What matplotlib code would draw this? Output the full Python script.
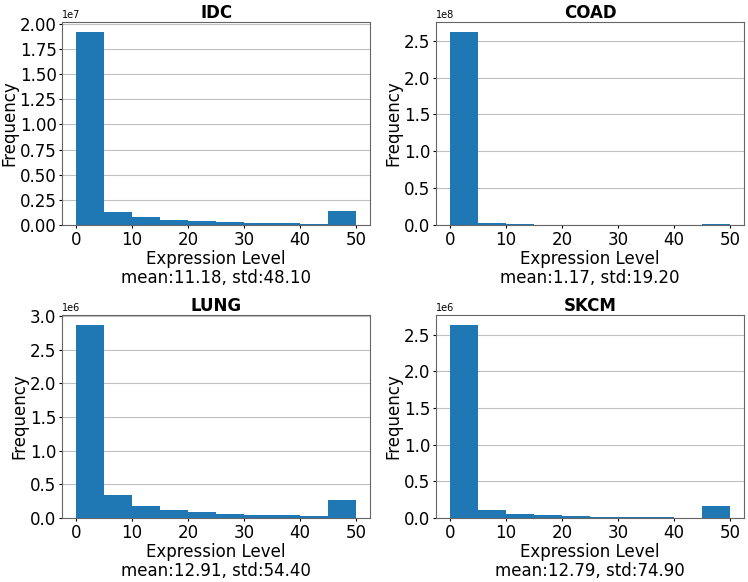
import numpy as np
import matplotlib
matplotlib.use("Agg")
import matplotlib.pyplot as plt
from matplotlib.ticker import MultipleLocator

# bin edges shared by all four histograms
bin_edges = [0, 5, 10, 15, 20, 25, 30, 35, 40, 45, 50]

cancer_types = ["IDC", "COAD", "LUNG", "SKCM"]

# counts per bin
idc_counts = [1.92e7, 1.28e6, 7.6e5, 5.3e5, 4.0e5, 3.0e5, 2.3e5, 2.0e5, 1.3e5, 1.42e6]
coad_counts = [2.62e8, 2.7e6, 9e5, 4e5, 3e5, 2e5, 1.5e5, 1e5, 1e5, 1.3e6]
lung_counts = [2.871e6, 3.40e5, 1.78e5, 1.18e5, 8.4e4, 6.4e4, 4.9e4, 3.9e4, 3.0e4, 2.66e5]
skcm_counts = [2.636e6, 1.09e5, 5.4e4, 3.6e4, 2.7e4, 1.8e4, 1.4e4, 9e3, 5e3, 1.63e5]

means = [11.18, 1.17, 12.91, 12.79]
stds = [48.10, 19.20, 54.40, 74.90]

# y tick step (in data units) for each panel
ytick_steps = [0.25e7, 0.5e8, 0.5e6, 0.5e6]

all_counts = [idc_counts, coad_counts, lung_counts, skcm_counts]

plt.rcParams["font.size"] = 12

fig, axes = plt.subplots(2, 2, figsize=(7.48, 5.82), dpi=100)
fig.subplots_adjust(left=0.083, right=0.995, top=0.962, bottom=0.11,
                    wspace=0.214, hspace=0.443)

centers = [(bin_edges[i] + bin_edges[i + 1]) / 2 for i in range(len(bin_edges) - 1)]

for ax, name, counts, m, s, step in zip(axes.flat, cancer_types, all_counts, means, stds, ytick_steps):
    ax.hist(centers, bins=bin_edges, weights=counts, color="#1f77b4")
    ax.set_title(name, fontweight="bold", fontsize=12, pad=3)
    ax.set_ylabel("Frequency", labelpad=1)
    ax.set_xlabel("Expression Level\nmean:%.2f, std:%.2f" % (m, s), linespacing=1.05, labelpad=1)
    ax.yaxis.set_major_locator(MultipleLocator(step))
    ax.tick_params(length=2.5, pad=1.5)
    ax.yaxis.get_offset_text().set_fontsize(7)
    ax.grid(axis="y", color="#c0c0c0", linewidth=0.8)
    ax.set_axisbelow(True)
    for sp in ax.spines.values():
        sp.set_color("#666666")

fig.savefig("out.png", dpi=100)
